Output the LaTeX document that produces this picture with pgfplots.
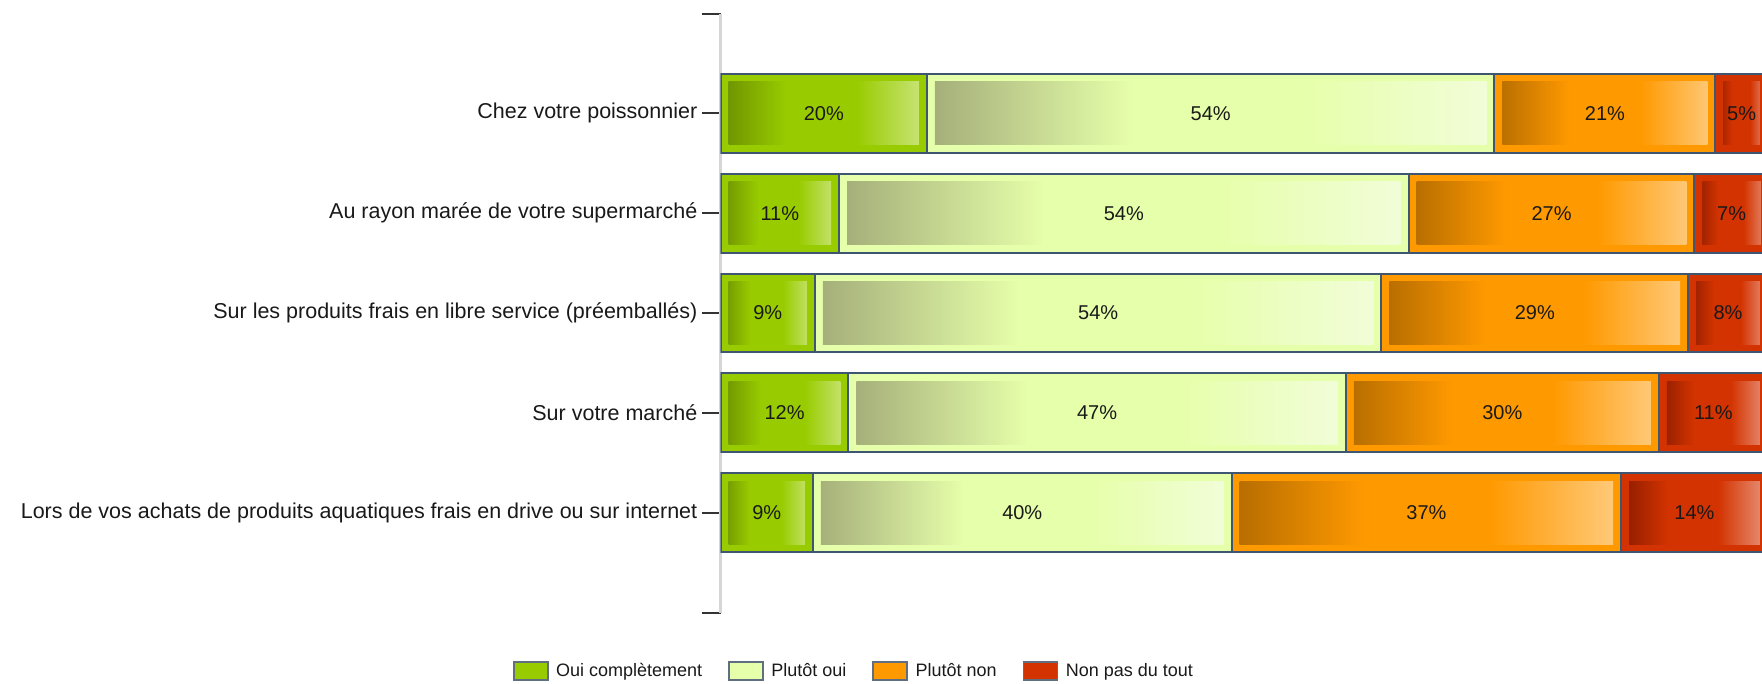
\documentclass[border=0pt]{standalone}
\usepackage{fontspec}
\setmainfont{Liberation Sans}
\usepackage{pgfplots}
\pgfplotsset{compat=1.18}

\definecolor{gbase}{HTML}{99CC00}
\definecolor{gdark}{HTML}{6B8F00}
\definecolor{glight}{HTML}{CCE680}
\definecolor{lbase}{HTML}{E6FFAA}
\definecolor{ldark}{HTML}{A3AC78}
\definecolor{llight}{HTML}{F2FDDA}
\definecolor{obase}{HTML}{FF9900}
\definecolor{odark}{HTML}{B36B00}
\definecolor{olight}{HTML}{FFCC80}
\definecolor{rbase}{HTML}{D33300}
\definecolor{rdark}{HTML}{8B1C00}
\definecolor{rlight}{HTML}{E8967F}
\definecolor{edge}{HTML}{3F5673}
\definecolor{legedge}{HTML}{5F6F80}
\definecolor{axisgrey}{HTML}{D6D6D6}
\definecolor{tickdark}{HTML}{333333}

\pgfdeclarehorizontalshading{gshade}{100bp}{color(0bp)=(gdark); color(25bp)=(gdark); color(41bp)=(gbase); color(58bp)=(gbase); color(75bp)=(glight); color(100bp)=(glight)}
\pgfdeclarehorizontalshading{lshade}{100bp}{color(0bp)=(ldark); color(25bp)=(ldark); color(43bp)=(lbase); color(58bp)=(lbase); color(75bp)=(llight); color(100bp)=(llight)}
\pgfdeclarehorizontalshading{oshade}{100bp}{color(0bp)=(odark); color(25bp)=(odark); color(42bp)=(obase); color(58bp)=(obase); color(75bp)=(olight); color(100bp)=(olight)}
\pgfdeclarehorizontalshading{rshade}{100bp}{color(0bp)=(rdark); color(25bp)=(rdark); color(41bp)=(rbase); color(58bp)=(rbase); color(75bp)=(rlight); color(100bp)=(rlight)}

\tikzset{inner/.style={postaction={path picture={\shade[draw=none, shading=#1] ([xshift=4pt,yshift=-4pt]path picture bounding box.north west) rectangle ([xshift=-4pt,yshift=4pt]path picture bounding box.south east);}}}}

\pgfplotsset{
  geom/.style={at={(360.35pt,35.75pt)}, anchor=south west,
    scale only axis, width=520.65pt, height=299.5pt,
    xmin=0, xmax=99.45, ymin=0, ymax=6, y dir=reverse},
  rowbars/.style={geom, hide axis, xbar stacked, bar width=0.79},
  sG/.style={fill=gbase, draw=edge, line width=1pt, inner=gshade},
  sL/.style={fill=lbase, draw=edge, line width=1pt, inner=lshade},
  sO/.style={fill=obase, draw=edge, line width=1pt, inner=oshade},
  sR/.style={fill=rbase, draw=edge, line width=1pt, inner=rshade},
}

\begin{document}
\begin{tikzpicture}
% main axis: y axis line, ticks, labels, legend, and row 1
\begin{axis}[
  geom,
  xbar stacked, bar width=0.79,
  axis x line=none, axis y line*=left,
  y axis line style={draw=axisgrey, line width=1.25pt, -},
  ytick={0,1,2,3,4,5,6},
  yticklabels={{},Chez votre poissonnier,Au rayon marée de votre supermarché,Sur les produits frais en libre service (préemballés),Sur votre marché,Lors de vos achats de produits aquatiques frais en drive ou sur internet,{}},
  tick align=outside, major tick length=9.5pt, ytick pos=left,
  ytick style={draw=tickdark, line width=1pt},
  yticklabel style={font=\fontsize{10.75}{13}\selectfont, text=black!90, inner sep=0pt, xshift=-2pt},
  legend image code/.code={\draw[#1, line width=0.8pt] (0pt,-4.5pt) rectangle (17pt,4.5pt); \path (19pt,0pt);},
  legend style={at={(-0.1995,-0.0977)}, anchor=west, draw=none, fill=none, inner sep=0pt, outer sep=0pt,
    font=\fontsize{9}{11}\selectfont, text=black!90,
    /tikz/every even column/.append style={column sep=11pt}},
  legend columns=4,
]
\addplot[forget plot, sG] coordinates {(19.7,1)};
\addplot[forget plot, sL] coordinates {(54.2,1)};
\addplot[forget plot, sO] coordinates {(21.1,1)};
\addplot[forget plot, sR] coordinates {(5.0,1)};
\addlegendimage{fill=gbase, draw=legedge}
\addlegendentry{Oui complètement}
\addlegendimage{fill=lbase, draw=legedge}
\addlegendentry{Plutôt oui}
\addlegendimage{fill=obase, draw=legedge}
\addlegendentry{Plutôt non}
\addlegendimage{fill=rbase, draw=legedge}
\addlegendentry{Non pas du tout}
\end{axis}
% row 2
\begin{axis}[rowbars]
\addplot[sG] coordinates {(11.3,2)};
\addplot[sL] coordinates {(54.4,2)};
\addplot[sO] coordinates {(27.3,2)};
\addplot[sR] coordinates {(7.1,2)};
\end{axis}
% row 3
\begin{axis}[rowbars]
\addplot[sG] coordinates {(9.0,3)};
\addplot[sL] coordinates {(54.1,3)};
\addplot[sO] coordinates {(29.3,3)};
\addplot[sR] coordinates {(7.6,3)};
\end{axis}
% row 4
\begin{axis}[rowbars]
\addplot[sG] coordinates {(12.2,4)};
\addplot[sL] coordinates {(47.5,4)};
\addplot[sO] coordinates {(29.9,4)};
\addplot[sR] coordinates {(10.4,4)};
\end{axis}
% row 5
\begin{axis}[rowbars]
\addplot[sG] coordinates {(8.8,5)};
\addplot[sL] coordinates {(40.0,5)};
\addplot[sO] coordinates {(37.2,5)};
\addplot[sR] coordinates {(14.0,5)};
\end{axis}
% value labels, centred in each segment
\begin{axis}[geom, hide axis, clip=false]
\addplot[only marks, mark=none, point meta=explicit symbolic,
  nodes near coords={\pgfplotspointmeta\%}, nodes near coords align={center},
  every node near coord/.append style={font=\fontsize{10}{12}\selectfont, text=black!90, anchor=center}]
  table[x=x, y=y, meta=l] {
x y l
9.85 1 20
46.8 1 54
84.45 1 21
97.5 1 5
5.65 2 11
38.5 2 54
79.35 2 27
96.55 2 7
4.5 3 9
36.05 3 54
77.75 3 29
96.2 3 8
6.1 4 12
35.95 4 47
74.65 4 30
94.8 4 11
4.4 5 9
28.8 5 40
67.4 5 37
93.0 5 14
};
\end{axis}
\pgfresetboundingbox
\path[use as bounding box] (0,0) rectangle (881pt,342pt);
\end{tikzpicture}
\end{document}
